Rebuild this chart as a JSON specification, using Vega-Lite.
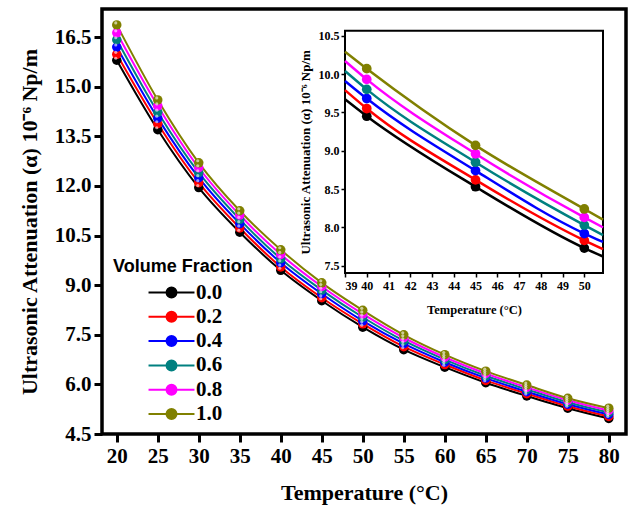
{
  "$schema": "https://vega.github.io/schema/vega-lite/v6.json",
  "autosize": "none",
  "width": 524,
  "height": 425,
  "padding": {"left": 102, "top": 9, "right": 4, "bottom": 77},
  "background": "white",
  "config": {
    "font": "Liberation Serif",
    "view": {"stroke": "black", "strokeWidth": 3.5},
    "axis": {"grid": false, "domain": false, "tickColor": "black", "labelColor": "black", "titleColor": "black", "labelFont": "Liberation Serif", "titleFont": "Liberation Serif", "labelFontWeight": "bold", "titleFontWeight": "bold"}
  },
  "datasets": {
    "main": [
      {"t":20,"f":"0.0","a":15.8},{"t":20,"f":"0.2","a":15.98},{"t":20,"f":"0.4","a":16.2},{"t":20,"f":"0.6","a":16.42},{"t":20,"f":"0.8","a":16.63},{"t":20,"f":"1.0","a":16.87},
      {"t":25,"f":"0.0","a":13.7},{"t":25,"f":"0.2","a":13.88},{"t":25,"f":"0.4","a":14.05},{"t":25,"f":"0.6","a":14.23},{"t":25,"f":"0.8","a":14.42},{"t":25,"f":"1.0","a":14.6},
      {"t":30,"f":"0.0","a":11.95},{"t":30,"f":"0.2","a":12.1},{"t":30,"f":"0.4","a":12.25},{"t":30,"f":"0.6","a":12.4},{"t":30,"f":"0.8","a":12.55},{"t":30,"f":"1.0","a":12.7},
      {"t":35,"f":"0.0","a":10.6},{"t":35,"f":"0.2","a":10.73},{"t":35,"f":"0.4","a":10.86},{"t":35,"f":"0.6","a":10.99},{"t":35,"f":"0.8","a":11.12},{"t":35,"f":"1.0","a":11.25},
      {"t":40,"f":"0.0","a":9.45},{"t":40,"f":"0.2","a":9.55},{"t":40,"f":"0.4","a":9.68},{"t":40,"f":"0.6","a":9.8},{"t":40,"f":"0.8","a":9.93},{"t":40,"f":"1.0","a":10.07},
      {"t":45,"f":"0.0","a":8.53},{"t":45,"f":"0.2","a":8.62},{"t":45,"f":"0.4","a":8.74},{"t":45,"f":"0.6","a":8.85},{"t":45,"f":"0.8","a":8.96},{"t":45,"f":"1.0","a":9.07},
      {"t":50,"f":"0.0","a":7.73},{"t":50,"f":"0.2","a":7.83},{"t":50,"f":"0.4","a":7.92},{"t":50,"f":"0.6","a":8.03},{"t":50,"f":"0.8","a":8.13},{"t":50,"f":"1.0","a":8.24},
      {"t":55,"f":"0.0","a":7.05},{"t":55,"f":"0.2","a":7.14},{"t":55,"f":"0.4","a":7.23},{"t":55,"f":"0.6","a":7.32},{"t":55,"f":"0.8","a":7.41},{"t":55,"f":"1.0","a":7.5},
      {"t":60,"f":"0.0","a":6.52},{"t":60,"f":"0.2","a":6.6},{"t":60,"f":"0.4","a":6.67},{"t":60,"f":"0.6","a":6.75},{"t":60,"f":"0.8","a":6.82},{"t":60,"f":"1.0","a":6.9},
      {"t":65,"f":"0.0","a":6.05},{"t":65,"f":"0.2","a":6.12},{"t":65,"f":"0.4","a":6.19},{"t":65,"f":"0.6","a":6.26},{"t":65,"f":"0.8","a":6.33},{"t":65,"f":"1.0","a":6.4},
      {"t":70,"f":"0.0","a":5.65},{"t":70,"f":"0.2","a":5.72},{"t":70,"f":"0.4","a":5.78},{"t":70,"f":"0.6","a":5.85},{"t":70,"f":"0.8","a":5.91},{"t":70,"f":"1.0","a":5.98},
      {"t":75,"f":"0.0","a":5.28},{"t":75,"f":"0.2","a":5.34},{"t":75,"f":"0.4","a":5.4},{"t":75,"f":"0.6","a":5.46},{"t":75,"f":"0.8","a":5.52},{"t":75,"f":"1.0","a":5.58},
      {"t":80,"f":"0.0","a":4.97},{"t":80,"f":"0.2","a":5.03},{"t":80,"f":"0.4","a":5.09},{"t":80,"f":"0.6","a":5.15},{"t":80,"f":"0.8","a":5.21},{"t":80,"f":"1.0","a":5.28}
    ],
    "insetLine": [
      {"t":39,"f":"0.0","a":9.67},{"t":40,"f":"0.0","a":9.45},{"t":45,"f":"0.0","a":8.53},{"t":50,"f":"0.0","a":7.73},{"t":50.86,"f":"0.0","a":7.62},
      {"t":39,"f":"0.2","a":9.79},{"t":40,"f":"0.2","a":9.55},{"t":45,"f":"0.2","a":8.62},{"t":50,"f":"0.2","a":7.83},{"t":50.86,"f":"0.2","a":7.715},
      {"t":39,"f":"0.4","a":9.91},{"t":40,"f":"0.4","a":9.68},{"t":45,"f":"0.4","a":8.74},{"t":50,"f":"0.4","a":7.92},{"t":50.86,"f":"0.4","a":7.81},
      {"t":39,"f":"0.6","a":10.04},{"t":40,"f":"0.6","a":9.8},{"t":45,"f":"0.6","a":8.85},{"t":50,"f":"0.6","a":8.03},{"t":50.86,"f":"0.6","a":7.9},
      {"t":39,"f":"0.8","a":10.17},{"t":40,"f":"0.8","a":9.93},{"t":45,"f":"0.8","a":8.96},{"t":50,"f":"0.8","a":8.13},{"t":50.86,"f":"0.8","a":8.0},
      {"t":39,"f":"1.0","a":10.29},{"t":40,"f":"1.0","a":10.07},{"t":45,"f":"1.0","a":9.07},{"t":50,"f":"1.0","a":8.24},{"t":50.86,"f":"1.0","a":8.1}
    ]
  },
  "layer": [
    {
      "data": {"name": "main"},
      "encoding": {
        "x": {"field": "t", "type": "quantitative",
          "scale": {"domain": [18.2, 82.1], "nice": false, "zero": false},
          "axis": {"orient": "bottom", "values": [20,25,30,35,40,45,50,55,60,65,70,75,80], "title": "Temperature (°C)", "labelFontSize": 21, "titleFontSize": 22, "tickSize": 8, "tickWidth": 3, "labelPadding": 3, "titlePadding": 16}},
        "y": {"field": "a", "type": "quantitative",
          "scale": {"domain": [4.5, 17.35], "nice": false, "zero": false},
          "axis": {"orient": "left", "values": [4.5,6,7.5,9,10.5,12,13.5,15,16.5], "format": ".1f", "title": "Ultrasonic Attenuation (α) 10⁻⁶ Np/m", "labelFontSize": 21, "titleFontSize": 22, "tickSize": 8, "tickWidth": 3, "labelPadding": 3, "titlePadding": 13}},
        "color": {"field": "f", "type": "nominal",
          "scale": {"domain": ["0.0","0.2","0.4","0.6","0.8","1.0"], "range": ["#000000","#ff0000","#0000ff","#008080","#ff00ff","#808000"]},
          "legend": {"orient": "none", "legendX": 11, "legendY": 249, "title": "Volume Fraction",
            "titleFont": "Liberation Sans", "titleFontSize": 18, "titleFontWeight": "bold", "titleColor": "black", "titlePadding": 6,
            "labelFont": "Liberation Serif", "labelFontSize": 21, "labelFontWeight": "bold", "labelColor": "black",
            "symbolType": "M4.17,0L11.83,0M8.83,0A0.83,0.83,0,1,1,7.17,0A0.83,0.83,0,1,1,8.83,0Z",
            "symbolSize": 144, "symbolStrokeWidth": 2, "labelOffset": 62, "rowPadding": 2.3,
            "encode": {"symbols": {"update": {"fill": {"scale": "color", "field": "value"}, "stroke": {"scale": "color", "field": "value"}, "strokeWidth": {"value": 2}, "opacity": {"value": 1}}}}}}
      },
      "layer": [
        {"mark": {"type": "line", "strokeWidth": 2, "interpolate": "monotone"}},
        {"mark": {"type": "point", "filled": true, "size": 90, "opacity": 1}},
        {"mark": {"type": "point", "filled": true, "size": 10, "color": "white", "opacity": 0.6, "xOffset": -1, "yOffset": -2}, "encoding": {"color": {"value": "white"}}}
      ]
    },
    {
      "layer": [
        {
          "data": {"values": [{}]},
          "mark": {"type": "rect", "fill": null, "stroke": "black", "strokeWidth": 2},
          "encoding": {
            "x": {"datum": 39, "type": "quantitative"},
            "x2": {"datum": 50.86},
            "y": {"datum": 7.405, "type": "quantitative"},
            "y2": {"datum": 10.565}
          }
        },
        {
          "data": {"name": "insetLine"},
          "mark": {"type": "line", "strokeWidth": 2.5, "interpolate": "monotone"},
          "encoding": {
            "x": {"field": "t", "type": "quantitative",
              "scale": {"domain": [39, 50.86], "range": [243, 501], "nice": false, "zero": false},
              "axis": {"orient": "bottom", "offset": -161, "values": [39,40,41,42,43,44,45,46,47,48,49,50], "title": "Temperature (°C)", "labelFontSize": 12, "titleFontSize": 12.5, "tickSize": 4, "tickWidth": 1.5, "labelPadding": 3, "titlePadding": 12}},
            "y": {"field": "a", "type": "quantitative",
              "scale": {"domain": [7.405, 10.565], "range": [264, 21.7], "nice": false, "zero": false},
              "axis": {"orient": "left", "offset": -243, "values": [7.5,8,8.5,9,9.5,10,10.5], "format": ".1f", "title": "Ultrasonic Attenuation (α) 10⁻⁶ Np/m", "labelFontSize": 12, "titleFontSize": 13, "tickSize": 4, "tickWidth": 1.5, "labelPadding": 2, "titlePadding": 6}},
            "color": {"field": "f", "type": "nominal"}
          }
        },
        {
          "data": {"name": "main"},
          "transform": [{"filter": "datum.t >= 40 && datum.t <= 50"}],
          "mark": {"type": "point", "filled": true, "size": 95, "opacity": 1},
          "encoding": {
            "x": {"field": "t", "type": "quantitative"},
            "y": {"field": "a", "type": "quantitative"},
            "color": {"field": "f", "type": "nominal"}
          }
        }
      ]
    }
  ],
  "resolve": {"scale": {"x": "independent", "y": "independent"}, "axis": {"x": "independent", "y": "independent"}}
}
